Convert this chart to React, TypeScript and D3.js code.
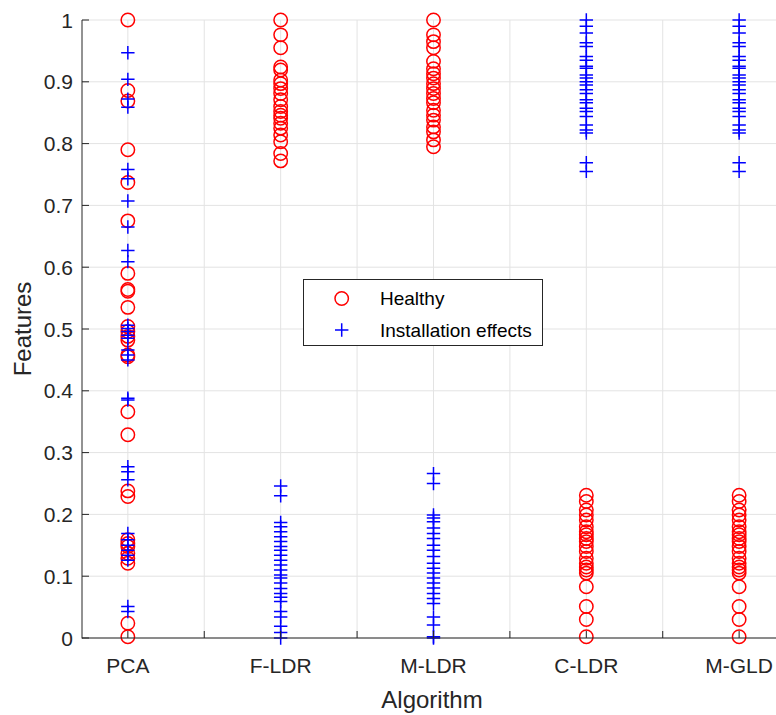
import React from "react";
import * as d3 from "d3";

const categories = ["PCA", "F-LDR", "M-LDR", "C-LDR", "M-GLD"];
const yTickValues = [0, 0.1, 0.2, 0.3, 0.4, 0.5, 0.6, 0.7, 0.8, 0.9, 1];
const xTickValues = [1, 1.5, 2, 2.5, 3, 3.5, 4, 4.5, 5];

const pcaHealthy = [1.0, 0.886, 0.869, 0.79, 0.737, 0.675, 0.59, 0.564, 0.561, 0.535, 0.504, 0.496, 0.488, 0.482, 0.458, 0.455, 0.366, 0.329, 0.238, 0.229, 0.159, 0.153, 0.148, 0.137, 0.129, 0.121, 0.024, 0.002];
const fldrHealthy = [1.0, 0.976, 0.955, 0.924, 0.919, 0.903, 0.897, 0.889, 0.881, 0.871, 0.86, 0.852, 0.846, 0.841, 0.833, 0.825, 0.814, 0.803, 0.784, 0.772];
const mldrHealthy = [1.0, 0.976, 0.965, 0.955, 0.933, 0.921, 0.913, 0.906, 0.897, 0.889, 0.881, 0.873, 0.866, 0.854, 0.846, 0.838, 0.827, 0.819, 0.806, 0.795];
const cldrHealthy = [0.231, 0.221, 0.207, 0.199, 0.191, 0.18, 0.172, 0.167, 0.161, 0.156, 0.148, 0.14, 0.129, 0.121, 0.115, 0.11, 0.105, 0.083, 0.051, 0.03, 0.002];
const mgldHealthy = [0.231, 0.221, 0.207, 0.199, 0.191, 0.18, 0.172, 0.167, 0.161, 0.156, 0.148, 0.14, 0.129, 0.121, 0.115, 0.11, 0.105, 0.083, 0.051, 0.03, 0.002];

const pcaInstall = [0.947, 0.904, 0.872, 0.859, 0.758, 0.743, 0.707, 0.665, 0.627, 0.609, 0.506, 0.501, 0.496, 0.49, 0.485, 0.466, 0.458, 0.45, 0.388, 0.385, 0.277, 0.269, 0.256, 0.169, 0.159, 0.15, 0.142, 0.134, 0.126, 0.051, 0.043];
const fldrInstall = [0.246, 0.23, 0.187, 0.18, 0.172, 0.164, 0.156, 0.148, 0.142, 0.134, 0.126, 0.118, 0.11, 0.102, 0.097, 0.089, 0.08, 0.072, 0.066, 0.059, 0.043, 0.034, 0.019, 0.009, 0.0];
const mldrInstall = [0.266, 0.25, 0.199, 0.194, 0.188, 0.178, 0.169, 0.161, 0.15, 0.142, 0.132, 0.121, 0.113, 0.105, 0.097, 0.089, 0.081, 0.072, 0.064, 0.056, 0.034, 0.021, 0.002, 0.0];
const cldrInstall = [1.0, 0.99, 0.979, 0.963, 0.957, 0.941, 0.935, 0.925, 0.922, 0.911, 0.906, 0.9, 0.895, 0.887, 0.881, 0.871, 0.866, 0.857, 0.852, 0.844, 0.83, 0.822, 0.817, 0.769, 0.755];
const mgldInstall = [1.0, 0.99, 0.979, 0.963, 0.957, 0.941, 0.935, 0.925, 0.922, 0.911, 0.906, 0.9, 0.895, 0.887, 0.881, 0.871, 0.866, 0.857, 0.852, 0.844, 0.83, 0.822, 0.817, 0.769, 0.755];

const healthySeries = [pcaHealthy, fldrHealthy, mldrHealthy, cldrHealthy, mgldHealthy];
const installSeries = [pcaInstall, fldrInstall, mldrInstall, cldrInstall, mgldInstall];

const W = 776;
const H = 715;
const FONT = "'Liberation Sans', Arial, Helvetica, sans-serif";
const TEXT = "#262626";

export default function App() {
  const x = d3.scaleLinear().domain([0.7, 5.2412]).range([82, 776]);
  const y = d3.scaleLinear().domain([0, 1]).range([638, 20]);
  const [x0, x1] = x.range();
  const [yb, yt] = y.range();
  const r = 6.7;
  const c = 6.7;

  const healthyPts = healthySeries.flatMap((vals, i) => vals.map((v) => ({ cx: x(i + 1), cy: y(v) })));
  const installPts = installSeries.flatMap((vals, i) => vals.map((v) => ({ cx: x(i + 1), cy: y(v) })));

  return (
    <svg width={W} height={H} style={{ position: "absolute", left: 0, top: 0, background: "#fff" }} fontFamily={FONT}>
      <rect width={W} height={H} fill="#fff" />
      {/* grid */}
      <g stroke="#e3e3e3" strokeWidth={1}>
        {yTickValues.map((t) => (
          <line key={"gy" + t} x1={x0} x2={x1} y1={y(t)} y2={y(t)} />
        ))}
        {xTickValues.map((t) => (
          <line key={"gx" + t} x1={x(t)} x2={x(t)} y1={yt} y2={yb} />
        ))}
      </g>
      {/* markers */}
      <g fill="none" stroke="#ff0000" strokeWidth={1.5}>
        {healthyPts.map((p, i) => (
          <circle key={"h" + i} cx={p.cx} cy={p.cy} r={r} />
        ))}
      </g>
      <g stroke="#0000ff" strokeWidth={1.5}>
        {installPts.map((p, i) => (
          <path key={"p" + i} d={`M${p.cx - c},${p.cy}H${p.cx + c}M${p.cx},${p.cy - c}V${p.cy + c}`} />
        ))}
      </g>
      {/* axes */}
      <g stroke={TEXT} strokeWidth={1}>
        <line x1={x0} x2={x0} y1={yt} y2={yb + 0.5} />
        <line x1={x0} x2={x1} y1={yb} y2={yb} />
        {yTickValues.map((t) => (
          <line key={"ty" + t} x1={x0} x2={x0 + 7} y1={y(t)} y2={y(t)} />
        ))}
        {xTickValues.map((t) => (
          <line key={"tx" + t} x1={x(t)} x2={x(t)} y1={yb} y2={yb - 7} />
        ))}
      </g>
      {/* tick labels */}
      <g fill={TEXT} fontSize={21}>
        {yTickValues.map((t) => (
          <text key={"ly" + t} x={73} y={y(t)} dy="0.36em" textAnchor="end">
            {d3.format("~g")(t)}
          </text>
        ))}
        {categories.map((cat, i) => (
          <text key={"lx" + cat} x={x(i + 1)} y={673} textAnchor="middle">
            {cat}
          </text>
        ))}
      </g>
      {/* axis labels */}
      <text x={(82 + 782) / 2} y={708} textAnchor="middle" fontSize={24} fill={TEXT}>
        Algorithm
      </text>
      <text transform={`translate(31,${(yt + yb) / 2}) rotate(-90)`} textAnchor="middle" fontSize={24} fill={TEXT}>
        Features
      </text>
      {/* legend */}
      <g>
        <rect x={303.5} y={279.5} width={239} height={66} fill="#fff" stroke={TEXT} strokeWidth={1} />
        <circle cx={341.7} cy={298.5} r={r} fill="none" stroke="#ff0000" strokeWidth={1.5} />
        <path d={`M${341.7 - c},330H${341.7 + c}M341.7,${330 - c}V${330 + c}`} stroke="#0000ff" strokeWidth={1.5} />
        <text x={380} y={298.5} dy="0.36em" fontSize={19} fill="#000">
          Healthy
        </text>
        <text x={380} y={330} dy="0.36em" fontSize={19} fill="#000">
          Installation effects
        </text>
      </g>
    </svg>
  );
}
